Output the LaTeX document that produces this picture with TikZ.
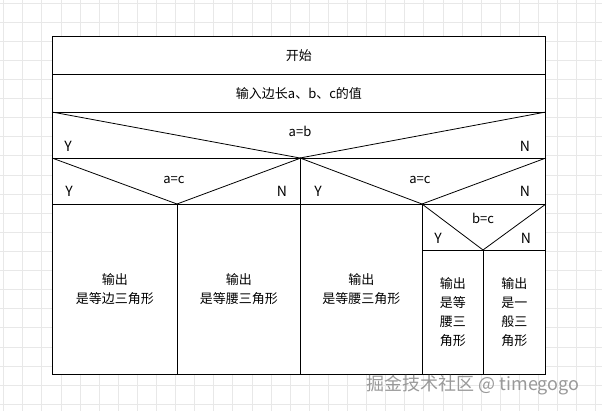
\documentclass[tikz,border=0pt]{standalone}
\usepackage{fontspec}
\setmainfont{Noto Sans CJK SC}
\usetikzlibrary{positioning, calc}

\begin{document}
\begin{tikzpicture}[x=1pt, y=-1pt, line width=0.9pt,
  cell/.style={draw, rectangle, inner sep=0pt, fill=white, anchor=north west, align=center, font=\fontsize{13}{19}\selectfont},
  yn/.style={font=\fontsize{14}{14}\selectfont},
  test/.style={font=\fontsize{13}{13}\selectfont}]
\useasboundingbox[fill=white] (0,0) rectangle (602,411);

% Background grid
\foreach \i in {0,...,31}
  \draw[gray!18, line width=0.6pt] ({3.5+19.1*\i},0) -- ({3.5+19.1*\i},411);
\foreach \j in {0,...,21}
  \draw[gray!18, line width=0.6pt] (0,{3+19.1*\j}) -- (602,{3+19.1*\j});

% Sequence blocks
\node[cell, minimum width=493, minimum height=38] (start) at (52,36) {开始};
\node[cell, minimum width=493, minimum height=38] (input) at (52,74) {输入边长a、b、c的值};

% Decision a=b
\node[cell, minimum width=493, minimum height=46] (condab) at (52,112) {};
\coordinate (splitab) at (300,158);
\draw[line width=0.8pt] (condab.north west) -- (splitab) -- (condab.north east);
\node[test] (labab) at (300,131) {a=b};
\node[yn] (yab) at (68,146) {Y};
\node[yn] (nab) at (525,146) {N};

% Decision a=c (left branch)
\node[cell, minimum width=248, minimum height=46] (condacl) at (52,158) {};
\coordinate (splitacl) at (177,204);
\draw[line width=0.8pt] (condacl.north west) -- (splitacl) -- (condacl.north east);
\node[test] (labacl) at (174,180) {a=c};
\node[yn] (yacl) at (69,191) {Y};
\node[yn] (nacl) at (282,191) {N};

% Decision a=c (right branch)
\node[cell, minimum width=245, minimum height=46] (condacr) at (300,158) {};
\coordinate (splitacr) at (422,204);
\draw[line width=0.8pt] (condacr.north west) -- (splitacr) -- (condacr.north east);
\node[test] (labacr) at (420,180) {a=c};
\node[yn] (yacr) at (318,191) {Y};
\node[yn] (nacr) at (525,191) {N};

% Decision b=c
\node[cell, minimum width=123, minimum height=46] (condbc) at (422,204) {};
\coordinate (splitbc) at (483,250);
\draw[line width=0.8pt] (condbc.north west) -- (splitbc) -- (condbc.north east);
\node[test] (labbc) at (483,218) {b=c};
\node[yn] (ybc) at (438,238) {Y};
\node[yn] (nbc) at (526,238) {N};

% Outputs
\node[cell, minimum width=125, minimum height=170] (outa) at (52,204) {输出\\是等边三角形};
\node[cell, minimum width=123, minimum height=170] (outb) at (177,204) {输出\\是等腰三角形};
\node[cell, minimum width=122, minimum height=170] (outc) at (300,204) {输出\\是等腰三角形};
\node[cell, minimum width=61, minimum height=124] (outd) at (422,250) {输出\\是等\\腰三\\角形};
\node[cell, minimum width=62, minimum height=124] (oute) at (483,250) {输出\\是一\\般三\\角形};

% Watermark
\node[text=gray!80, font=\fontsize{18}{18}\selectfont] (mark) at (473,385) {掘金技术社区 @ timegogo};
\end{tikzpicture}
\end{document}
